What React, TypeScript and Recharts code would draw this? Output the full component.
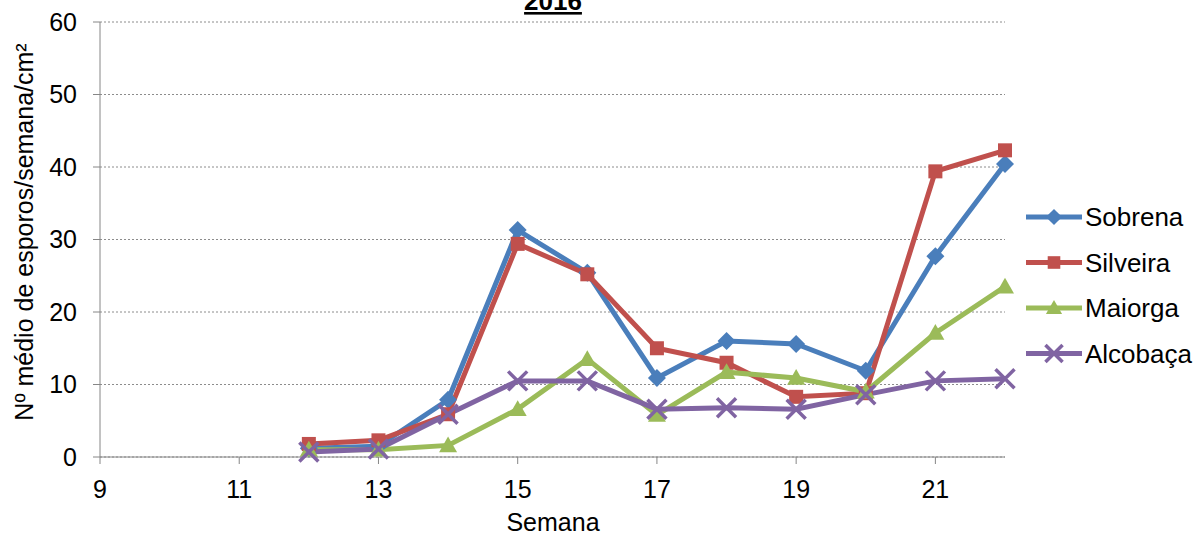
import React from "react";
import { LineChart, Line, XAxis, YAxis, CartesianGrid } from "recharts";

const weeks = [12, 13, 14, 15, 16, 17, 18, 19, 20, 21, 22];
const sobrena = [1.2, 1.5, 7.9, 31.3, 25.4, 10.9, 16.0, 15.6, 11.9, 27.7, 40.4];
const silveira = [1.8, 2.3, 5.9, 29.4, 25.2, 15.0, 13.0, 8.3, 8.8, 39.4, 42.3];
const maiorga = [1.0, 1.0, 1.6, 6.6, 13.5, 5.8, 11.7, 10.9, 9.0, 17.1, 23.5];
const alcobaca = [0.7, 1.1, 5.9, 10.5, 10.5, 6.6, 6.8, 6.6, 8.6, 10.5, 10.8];

const xTicks = [9, 11, 13, 15, 17, 19, 21];
const yTicks = [0, 10, 20, 30, 40, 50, 60];

const COLORS = {
  sobrena: "#4a7ebb",
  silveira: "#c0504d",
  maiorga: "#9bbb59",
  alcobaca: "#8064a2",
};

const data = weeks.map((w, i) => ({
  week: w,
  sobrena: sobrena[i],
  silveira: silveira[i],
  maiorga: maiorga[i],
  alcobaca: alcobaca[i],
}));

type Shape = "diamond" | "square" | "triangle" | "x";

function Marker({ shape, cx, cy, color, s = 1 }: { shape: Shape; cx: number; cy: number; color: string; s?: number }) {
  if (shape === "diamond") {
    const r = 9 * s;
    return <path d={`M${cx},${cy - r}L${cx + r},${cy}L${cx},${cy + r}L${cx - r},${cy}Z`} fill={color} />;
  }
  if (shape === "square") {
    const r = 7 * s;
    return <rect x={cx - r} y={cy - r} width={2 * r} height={2 * r} fill={color} />;
  }
  if (shape === "triangle") {
    const r = 9 * s;
    return <path d={`M${cx},${cy - r}L${cx + r},${cy + r * 0.75}L${cx - r},${cy + r * 0.75}Z`} fill={color} />;
  }
  const r = 9.5 * s;
  return (
    <path
      d={`M${cx - r},${cy - r}L${cx + r},${cy + r}M${cx - r},${cy + r}L${cx + r},${cy - r}`}
      stroke={color}
      strokeWidth={3.5}
      fill="none"
    />
  );
}

const series: { key: keyof typeof COLORS; name: string; shape: Shape }[] = [
  { key: "sobrena", name: "Sobrena", shape: "diamond" },
  { key: "silveira", name: "Silveira", shape: "square" },
  { key: "maiorga", name: "Maiorga", shape: "triangle" },
  { key: "alcobaca", name: "Alcobaça", shape: "x" },
];

const font = "'Liberation Sans', Arial, sans-serif";

export default function App() {
  return (
    <div style={{ position: "absolute", left: 0, top: 0, width: 1197, height: 536, background: "#fff", fontFamily: font, overflow: "hidden" }}>
      <LineChart width={1197} height={536} data={data} margin={{ top: 22, right: 192, bottom: 49, left: 40 }}>
        <CartesianGrid vertical={false} stroke="#8c8c8c" strokeDasharray="2 2" />
        <XAxis
          dataKey="week"
          type="number"
          domain={[9, 22]}
          ticks={xTicks}
          height={30}
          stroke="#868686"
          tickSize={7}
          tickMargin={16}
          tick={{ fill: "#000", fontSize: 25, fontFamily: font }}
        />
        <YAxis
          domain={[0, 60]}
          ticks={yTicks}
          width={60}
          stroke="#868686"
          tickSize={7}
          tickMargin={16}
          tick={{ fill: "#000", fontSize: 25, fontFamily: font }}
        />
        {series.map((s) => (
          <Line
            key={s.key}
            dataKey={s.key}
            type="linear"
            stroke={COLORS[s.key]}
            strokeWidth={5}
            isAnimationActive={false}
            dot={(p: any) => <Marker key={p.index} shape={s.shape} cx={p.cx} cy={p.cy} color={COLORS[s.key]} />}
          />
        ))}
      </LineChart>
      <svg width={1197} height={536} style={{ position: "absolute", left: 0, top: 0, pointerEvents: "none" }}>
        <text x={553} y={10} textAnchor="middle" fontSize={26} fontWeight="bold" fontFamily={font} textDecoration="underline">
          2016
        </text>
        <text x={553} y={531} textAnchor="middle" fontSize={25} fontFamily={font}>
          Semana
        </text>
        <text
          transform="translate(33,232) rotate(-90)"
          textAnchor="middle"
          fontSize={25}
          fontFamily={font}
        >
          Nº  médio de esporos/semana/cm²
        </text>
        {series.map((s, i) => {
          const y = 217 + i * 45.5;
          return (
            <g key={s.key}>
              <line x1={1026} x2={1082} y1={y} y2={y} stroke={COLORS[s.key]} strokeWidth={5} />
              <Marker shape={s.shape} cx={1054} cy={y} color={COLORS[s.key]} s={0.9} />
              <text x={1085} y={y + 9} fontSize={26} fontFamily={font}>
                {s.name}
              </text>
            </g>
          );
        })}
      </svg>
    </div>
  );
}
